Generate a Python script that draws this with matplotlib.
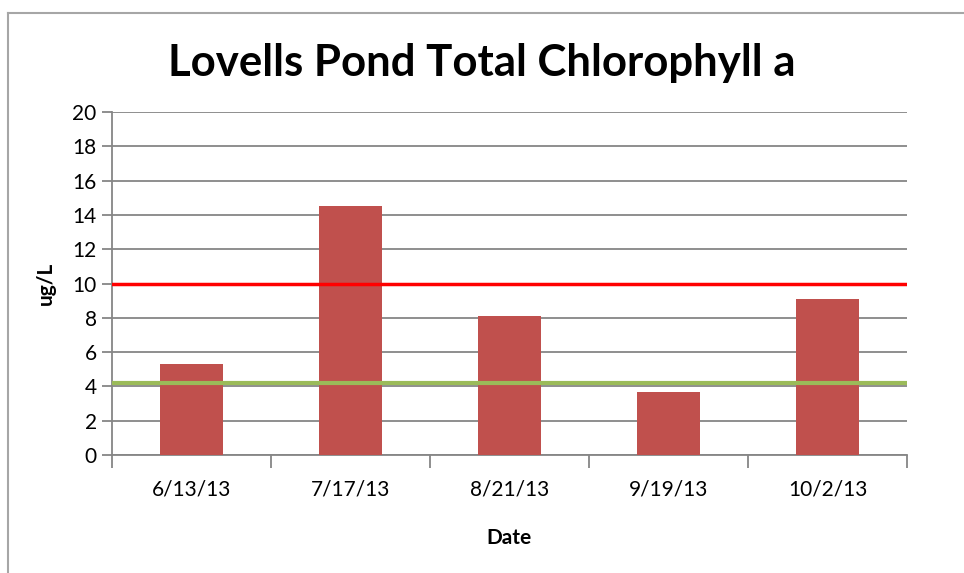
import matplotlib.pyplot as plt
import numpy as np

# Chart data
dates = ['6/13/13', '7/17/13', '8/21/13', '9/19/13', '10/2/13']
chlorophyll = [5.3, 14.5, 8.1, 3.7, 9.1]
upper_limit = 10.0
lower_limit = 4.2
y_ticks = list(range(0, 21, 2))

plt.rcParams['font.family'] = ['Lato', 'DejaVu Sans']

fig = plt.figure(figsize=(9.64, 5.73), dpi=100)
ax = fig.add_axes([112 / 964, 118 / 573, 795 / 964, 343 / 573])

x = np.arange(len(dates))
ax.bar(x, chlorophyll, width=0.4, color='#C0504D', zorder=3)

# Reference lines
ax.axhline(upper_limit, color='#FF0000', linewidth=2.5, zorder=4)
ax.axhline(lower_limit, color='#9BBB59', linewidth=3, zorder=4)

ax.set_xlim(-0.5, len(dates) - 0.5)
ax.set_ylim(0, 20)
ax.set_yticks(y_ticks)
ax.set_yticklabels([str(t) for t in y_ticks], fontsize=15)
ax.grid(axis='y', color='#868686', linewidth=1.3, zorder=0)

# Category labels centred, tick marks on category boundaries
ax.set_xticks(x)
ax.set_xticklabels(dates, fontsize=15)
ax.tick_params(axis='x', length=0, pad=18)
ax.set_xticks(np.arange(-0.5, len(dates)), minor=True)
ax.tick_params(axis='x', which='minor', length=9, color='#868686', width=1.3)
ax.tick_params(axis='y', length=7, color='#868686', width=1.3, pad=4)

for side in ['top', 'right']:
    ax.spines[side].set_visible(False)
for side in ['left', 'bottom']:
    ax.spines[side].set_color('#868686')
    ax.spines[side].set_linewidth(1.3)

ax.set_xlabel('Date', fontsize=15, fontweight='bold', labelpad=20)
ax.set_ylabel('ug/L', fontsize=15, fontweight='bold', labelpad=12)

fig.text(0.5, 1 - 63 / 573, 'Lovells Pond Total Chlorophyll a',
         ha='center', va='center', fontsize=31.5, fontweight='bold')

# Outer chart frame
fig.add_artist(plt.Line2D([8 / 964, 1], [1 - 13 / 573, 1 - 13 / 573],
                          color='#A6A6A6', linewidth=1.5))
fig.add_artist(plt.Line2D([8 / 964, 8 / 964], [0, 1 - 13 / 573],
                          color='#A6A6A6', linewidth=1.5))

fig.savefig('out.png', dpi=100)
